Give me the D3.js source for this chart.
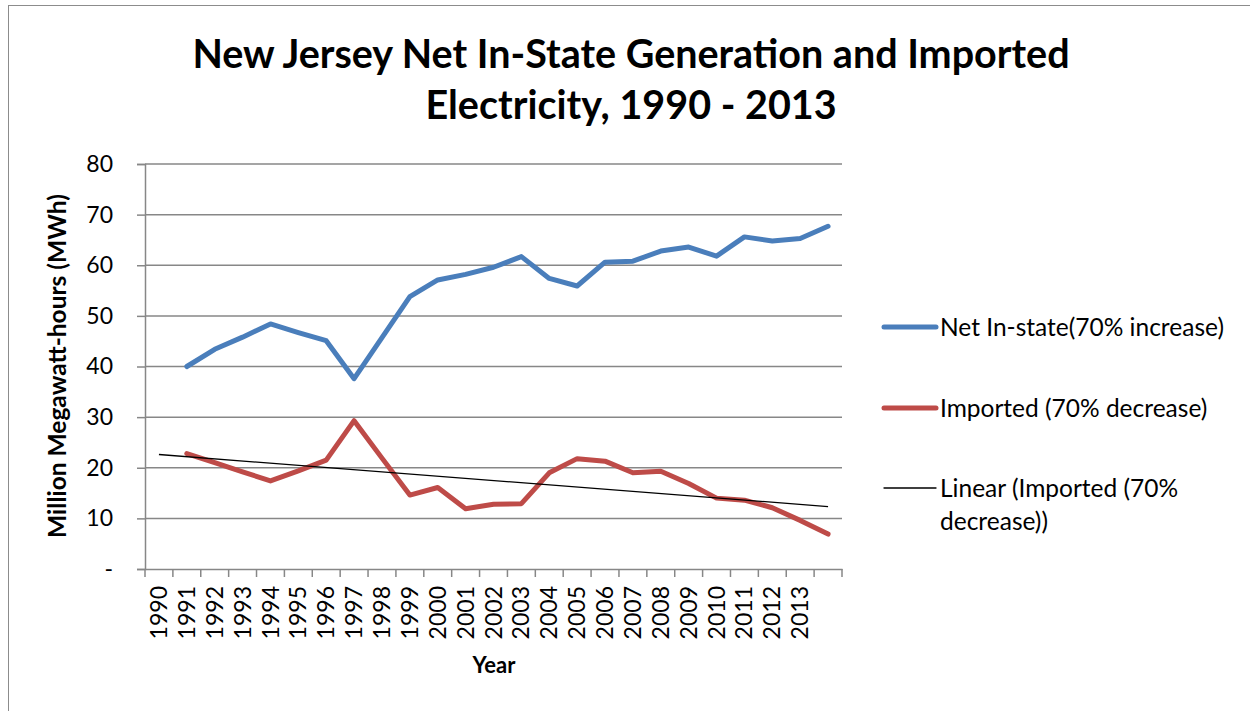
<!DOCTYPE html>
<html>
<head>
<meta charset="utf-8">
<script src="https://cdn.jsdelivr.net/npm/d3@7"></script>
<style>
  html, body { margin: 0; padding: 0; background: #fff; }
  svg { display: block; font-family: Lato, "Open Sans", sans-serif; }
</style>
</head>
<body>
<svg id="chart" width="1250" height="711"></svg>
<script>
// ---- Data ----
const tickLabels = ["1990","1991","1992","1993","1994","1995","1996","1997","1998","1999","2000","2001",
                    "2002","2003","2004","2005","2006","2007","2008","2009","2010","2011","2012","2013",""];
const netInState = [40.0, 43.4, 45.8, 48.4, 46.7, 45.1, 37.6, 45.7, 53.8, 57.1, 58.2, 59.6,
                    61.7, 57.4, 55.9, 60.6, 60.8, 62.8, 63.6, 61.8, 65.6, 64.8, 65.3, 67.7];
const imported   = [22.8, 21.0, 19.2, 17.4, 19.4, 21.5, 29.3, 21.9, 14.6, 16.1, 11.9, 12.8,
                    12.9, 19.0, 21.8, 21.3, 19.0, 19.3, 16.9, 14.0, 13.6, 12.1, 9.6, 6.9];
const yTicks = [0, 10, 20, 30, 40, 50, 60, 70, 80];
const seriesNames = ["Net In-state(70% increase)", "Imported (70% decrease)", "Linear (Imported (70%", "decrease))"];

// ---- Layout ----
const svg = d3.select("#chart");
const W = 1250, H = 711;
const plot = { left: 145, right: 842, top: 164, bottom: 569 };
const gridColor = "#878787";
const FONT = "Lato, sans-serif";

svg.append("rect").attr("x", 8.5).attr("y", 5.5).attr("width", W).attr("height", H)
   .attr("fill", "#fff").attr("stroke", "#8c8c8c").attr("stroke-width", 1);

const x = d3.scaleBand().domain(d3.range(tickLabels.length)).range([plot.left, plot.right]).padding(0);
const cx = i => x(i) + x.bandwidth() / 2;
const y = d3.scaleLinear().domain([0, 80]).range([plot.bottom, plot.top]);

// gridlines
svg.append("g").selectAll("line").data(yTicks.filter(d => d > 0)).join("line")
  .attr("x1", plot.left).attr("x2", plot.right)
  .attr("y1", d => y(d)).attr("y2", d => y(d))
  .attr("stroke", gridColor).attr("stroke-width", 1.5);

// y axis
const yAxis = d3.axisLeft(y).tickValues(yTicks).tickSize(8).tickPadding(24)
  .tickFormat(d => d === 0 ? "-" : d);
const gy = svg.append("g").attr("transform", `translate(${plot.left},0)`).call(yAxis);
gy.select(".domain").attr("stroke", gridColor).attr("stroke-width", 1.5);
gy.selectAll(".tick line").attr("stroke", gridColor).attr("stroke-width", 1.5);
gy.selectAll(".tick text").attr("font-size", 23).attr("fill", "#000").attr("font-family", FONT);

// x axis
const xAxis = d3.axisBottom(x).tickSize(0).tickFormat(i => tickLabels[i]);
const gx = svg.append("g").attr("transform", `translate(0,${plot.bottom})`).call(xAxis);
gx.select(".domain").attr("stroke", gridColor).attr("stroke-width", 1.5);
gx.selectAll(".tick text")
  .attr("font-size", 23).attr("fill", "#000").attr("font-family", FONT)
  .attr("transform", "rotate(-90)")
  .attr("text-anchor", "end").attr("x", -17).attr("y", 0).attr("dy", "0.35em");
// boundary tick marks
svg.append("g").selectAll("line").data(d3.range(tickLabels.length + 1)).join("line")
  .attr("x1", i => plot.left + i * x.bandwidth()).attr("x2", i => plot.left + i * x.bandwidth())
  .attr("y1", plot.bottom).attr("y2", plot.bottom + 8)
  .attr("stroke", gridColor).attr("stroke-width", 1.5);

// series (plotted from the second category slot, as in the original)
const line = d3.line().x((d, i) => cx(i + 1)).y(d => y(d)).curve(d3.curveLinear);
svg.append("path").datum(netInState).attr("d", line)
  .attr("fill", "none").attr("stroke", "#4a7ebb").attr("stroke-width", 5)
  .attr("stroke-linejoin", "round").attr("stroke-linecap", "round");
svg.append("path").datum(imported).attr("d", line)
  .attr("fill", "none").attr("stroke", "#be4b48").attr("stroke-width", 5)
  .attr("stroke-linejoin", "round").attr("stroke-linecap", "round");

// linear trendline of Imported (least squares, backward forecast one period)
const xs = imported.map((d, i) => i + 1);
const mx = d3.mean(xs), my = d3.mean(imported);
const slope = d3.sum(xs.map((xv, i) => (xv - mx) * (imported[i] - my))) / d3.sum(xs.map(xv => (xv - mx) ** 2));
const icpt = my - slope * mx;
const trendX = [0, imported.length];
svg.append("line")
  .attr("x1", cx(trendX[0])).attr("y1", y(icpt + slope * trendX[0]))
  .attr("x2", cx(trendX[1])).attr("y2", y(icpt + slope * trendX[1]))
  .attr("stroke", "#000").attr("stroke-width", 1.3);

// title
const title = svg.append("text").attr("text-anchor", "middle").attr("font-weight", "bold")
  .attr("font-size", 39.5).attr("font-family", FONT).attr("fill", "#000");
title.append("tspan").attr("x", 631).attr("y", 68).text("New Jersey Net In-State Generation and Imported");
title.append("tspan").attr("x", 631).attr("y", 119).text("Electricity, 1990 - 2013");

// axis titles
svg.append("text").attr("transform", "translate(66,366) rotate(-90)").attr("text-anchor", "middle")
  .attr("font-weight", "bold").attr("font-size", 24.5).attr("font-family", FONT)
  .text("Million Megawatt-hours (MWh)");
svg.append("text").attr("x", 494).attr("y", 673).attr("text-anchor", "middle")
  .attr("font-weight", "bold").attr("font-size", 22).attr("font-family", FONT)
  .text("Year");

// legend
const legend = [
  { color: "#4a7ebb", w: 5, y: 327, lines: [seriesNames[0]] },
  { color: "#be4b48", w: 5, y: 408, lines: [seriesNames[1]] },
  { color: "#000", w: 1.3, y: 488, lines: [seriesNames[2], seriesNames[3]] }
];
const lg = svg.append("g").selectAll("g").data(legend).join("g");
lg.append("line").attr("x1", 884).attr("x2", 936).attr("y1", d => d.y).attr("y2", d => d.y)
  .attr("stroke", d => d.color).attr("stroke-width", d => d.w).attr("stroke-linecap", "round");
lg.each(function(d) {
  const t = d3.select(this).append("text").attr("font-size", 24.5).attr("font-family", FONT);
  d.lines.forEach((s, k) => t.append("tspan").attr("x", 940).attr("y", d.y + k * 33).attr("dy", "0.35em").text(s));
});
</script>
</body>
</html>
